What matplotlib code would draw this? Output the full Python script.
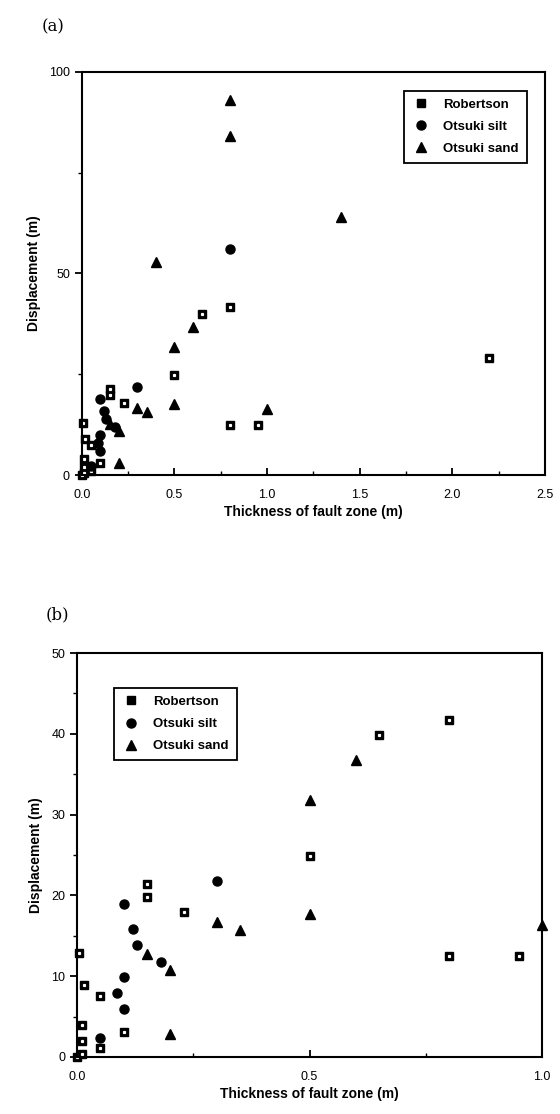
import matplotlib.pyplot as plt
from matplotlib.ticker import MultipleLocator

# datos (espesor de zona de falla, desplazamiento)
rob_x = [0.0, 0.01, 0.05, 0.01, 0.01, 0.015, 0.05, 0.1, 0.005, 0.15, 0.15, 0.23, 0.5, 0.65, 0.8, 0.8, 0.95, 2.2]
rob_y = [0.0, 0.4, 1.1, 2.0, 4.0, 8.9, 7.5, 3.1, 12.9, 21.4, 19.8, 17.9, 24.9, 39.9, 41.7, 12.5, 12.5, 29.0]

silt_x = [0.05, 0.1, 0.085, 0.1, 0.18, 0.13, 0.12, 0.1, 0.3, 0.8]
silt_y = [2.3, 5.9, 7.9, 9.9, 11.8, 13.9, 15.8, 18.9, 21.8, 56.0]

sand_x = [0.2, 0.2, 0.15, 0.35, 0.3, 0.5, 0.5, 0.6, 1.0, 0.4, 1.4, 0.8, 0.8]
sand_y = [2.9, 10.8, 12.7, 15.7, 16.7, 17.7, 31.8, 36.8, 16.3, 52.8, 64.0, 84.0, 93.0]

plt.rcParams['font.family'] = ['Liberation Sans', 'DejaVu Sans']

fig = plt.figure(figsize=(5.6, 11.14), dpi=100)
ax_a = fig.add_axes([0.146, 0.5736, 0.827, 0.3618])
ax_b = fig.add_axes([0.1375, 0.0512, 0.8305, 0.3626])


def filtrar(xs, ys, xmax, ymax):
    pares = [(x, y) for x, y in zip(xs, ys) if x <= xmax and y <= ymax]
    return [p[0] for p in pares], [p[1] for p in pares]


def pintar(ax, xmax, ymax, legend_loc, legend_anchor):
    rx, ry = filtrar(rob_x, rob_y, xmax, ymax)
    cx, cy = filtrar(silt_x, silt_y, xmax, ymax)
    tx, ty = filtrar(sand_x, sand_y, xmax, ymax)
    ax.plot(rx, ry, 's', color='black', ms=6, label='Robertson', clip_on=False)
    ax.plot(rx, ry, 's', color='white', ms=1.3, clip_on=False)
    ax.plot(cx, cy, 'o', color='black', ms=6.5, label='Otsuki silt', clip_on=False)
    ax.plot(tx, ty, '^', color='black', ms=6.5, label='Otsuki sand', clip_on=False)

    ax.set_xlim(0, xmax)
    ax.set_ylim(0, ymax)
    for s in ax.spines.values():
        s.set_linewidth(1.5)
    ax.tick_params(axis='x', which='both', direction='in', labelsize=9, pad=10)
    ax.tick_params(axis='y', which='both', direction='out', labelsize=9)
    ax.tick_params(which='major', length=5, width=1.3)
    ax.tick_params(which='minor', length=3, width=1.0)
    ax.set_xlabel('Thickness of fault zone (m)', fontsize=10, fontweight='bold', labelpad=3)
    ax.set_ylabel('Displacement (m)', fontsize=10, fontweight='bold', labelpad=6)
    leg = ax.legend(loc=legend_loc, bbox_to_anchor=legend_anchor, fancybox=False,
                    edgecolor='black', framealpha=1, prop={'size': 9.5, 'weight': 'bold'},
                    handletextpad=1.0, borderpad=0.6, labelspacing=0.75, handlelength=1.4)
    leg.get_frame().set_linewidth(1.3)


pintar(ax_a, 2.5, 100, 'upper right', (0.975, 0.97))
ax_a.xaxis.set_major_locator(MultipleLocator(0.5))
ax_a.xaxis.set_minor_locator(MultipleLocator(0.25))
ax_a.yaxis.set_major_locator(MultipleLocator(50))
ax_a.yaxis.set_minor_locator(MultipleLocator(25))
ax_a.xaxis.set_major_formatter(lambda v, p: f'{v:.1f}')

pintar(ax_b, 1.0, 50, 'upper left', (0.065, 0.93))
ax_b.xaxis.set_major_locator(MultipleLocator(0.5))
ax_b.xaxis.set_minor_locator(MultipleLocator(0.25))
ax_b.yaxis.set_major_locator(MultipleLocator(10))
ax_b.yaxis.set_minor_locator(MultipleLocator(5))
ax_b.xaxis.set_major_formatter(lambda v, p: f'{v:.1f}')

fig.text(0.095, 0.976, '(a)', fontsize=12, family='DejaVu Serif', ha='center', va='center')
fig.text(0.102, 0.448, '(b)', fontsize=12, family='DejaVu Serif', ha='center', va='center')

fig.savefig('out.png', dpi=100)
